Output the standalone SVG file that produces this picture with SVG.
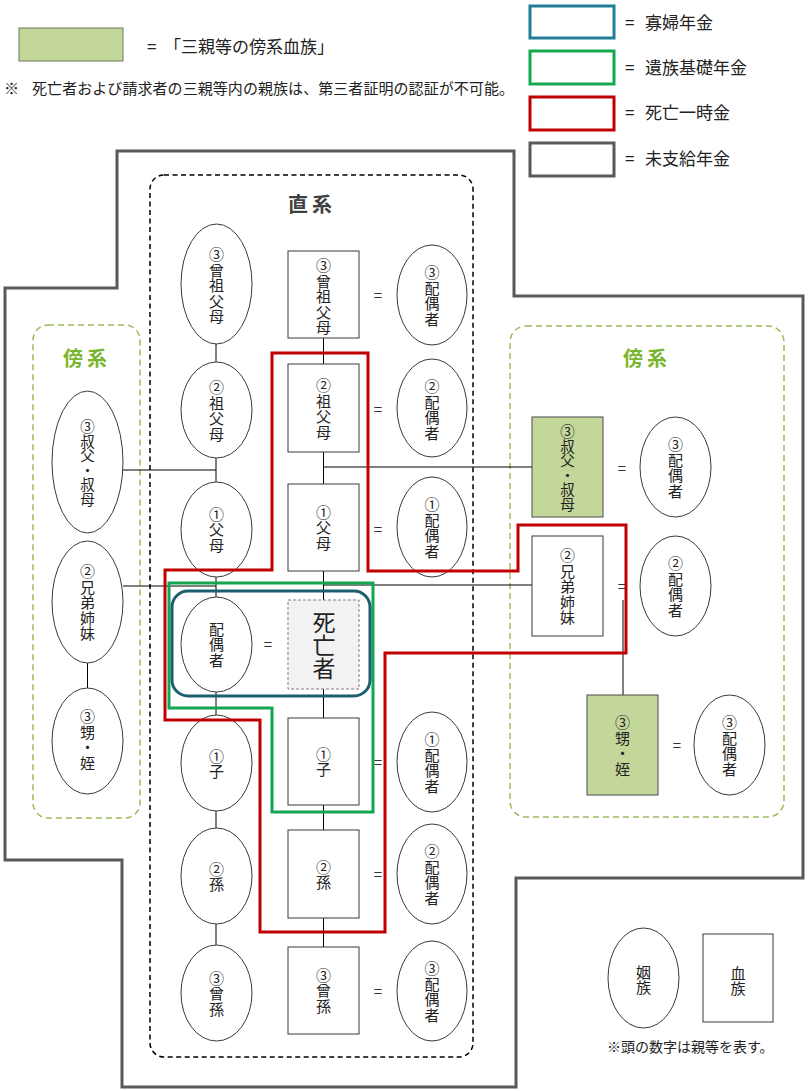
<svg xmlns="http://www.w3.org/2000/svg" width="808" height="1091" viewBox="0 0 808 1091">
<style>
.f{font-family:"Noto Sans CJK JP","Noto Sans CJK SC",sans-serif;fill:#222}
.v{font-family:"Noto Sans CJK JP","Noto Sans CJK SC",sans-serif;font-size:15px;letter-spacing:0.5px;fill:#222;text-anchor:middle;writing-mode:vertical-rl}
.v6{font-size:14.5px;letter-spacing:0}
.eq{font-family:"Noto Sans CJK JP",sans-serif;font-size:15px;fill:#333;text-anchor:middle;dominant-baseline:central}
.n{fill:#fff;stroke:#3a3a3a;stroke-width:1}
.g{fill:#c4d79b;stroke:#4a4a4a;stroke-width:1}
.c line{stroke:#000;stroke-width:1}
.ttl{font-family:"Noto Sans CJK JP",sans-serif;font-size:20px;font-weight:bold;text-anchor:middle;dominant-baseline:central;letter-spacing:4px}
.lg{font-family:"Noto Sans CJK JP",sans-serif;font-size:17px;fill:#222;dominant-baseline:central}
</style>
<rect width="808" height="1091" fill="#fff"/>

<!-- legends -->
<g id="legend-top-left">
<rect x="19" y="28" width="104" height="33" fill="#c4d79b" stroke="#6b7a55" stroke-width="1"/>
<text class="lg" x="147" y="45">=</text>
<text class="lg" x="164" y="45">「三親等の傍系血族」</text>
<text class="f" x="4" y="94" font-size="15">※</text>
<text class="f" x="32" y="94" font-size="15" textLength="482" lengthAdjust="spacing">死亡者および請求者の三親等内の親族は、第三者証明の認証が不可能。</text>
</g>
<g id="legend-top-right">
<rect x="530" y="6" width="84" height="32" fill="none" stroke="#1f7f95" stroke-width="3"/>
<rect x="530" y="51" width="84" height="33" fill="none" stroke="#14a850" stroke-width="3"/>
<rect x="530" y="97" width="84" height="33" fill="none" stroke="#c00000" stroke-width="3"/>
<rect x="530" y="143" width="84" height="33" fill="none" stroke="#595959" stroke-width="3"/>
<text class="lg" x="625" y="21">=</text><text class="lg" x="645" y="21">寡婦年金</text>
<text class="lg" x="625" y="66">=</text><text class="lg" x="645" y="66">遺族基礎年金</text>
<text class="lg" x="625" y="111">=</text><text class="lg" x="645" y="111">死亡一時金</text>
<text class="lg" x="625" y="157">=</text><text class="lg" x="645" y="157">未支給年金</text>
</g>

<!-- outer gray outline -->
<polygon id="outline" points="117,151 514,151 514,296 803,296 803,878 516,878 516,1087 122,1087 122,860 5,860 5,288 117,288" fill="none" stroke="#595959" stroke-width="3"/>

<!-- group boxes -->
<g id="direct-box">
<rect x="150" y="175" width="323" height="882" rx="14" fill="none" stroke="#000" stroke-width="1.5" stroke-dasharray="5 3.5"/>
<text class="ttl" x="312" y="203" fill="#404040">直系</text>
</g>
<g id="collateral-left-box">
<rect x="33" y="325" width="107" height="493" rx="15" fill="none" stroke="#9bbb59" stroke-width="1.5" stroke-dasharray="6 4"/>
<text class="ttl" x="87" y="357" fill="#7ab52f">傍系</text>
</g>
<g id="collateral-right-box">
<rect x="510" y="326" width="274" height="491" rx="16" fill="none" stroke="#9bbb59" stroke-width="1.5" stroke-dasharray="6 4"/>
<text class="ttl" x="647" y="357" fill="#7ab52f">傍系</text>
</g>

<!-- connectors -->
<g id="connectors" class="c">
<line x1="216" y1="344" x2="216" y2="362"/>
<line x1="216" y1="458" x2="216" y2="482"/>
<line x1="216" y1="577" x2="216" y2="597"/>
<line x1="216" y1="692" x2="216" y2="715"/>
<line x1="216" y1="811" x2="216" y2="828"/>
<line x1="216" y1="924" x2="216" y2="945"/>
<line x1="323.5" y1="338" x2="323.5" y2="364"/>
<line x1="323.5" y1="452" x2="323.5" y2="484"/>
<line x1="323.5" y1="571" x2="323.5" y2="600"/>
<line x1="323.5" y1="689" x2="323.5" y2="718"/>
<line x1="323.5" y1="805" x2="323.5" y2="830"/>
<line x1="323.5" y1="918" x2="323.5" y2="947"/>
<line x1="123" y1="470" x2="216" y2="470"/>
<line x1="123" y1="586" x2="216" y2="586"/>
<line x1="87.5" y1="662" x2="87.5" y2="688"/>
<line x1="323.5" y1="467" x2="532" y2="467"/>
<line x1="323.5" y1="585" x2="532" y2="585"/>
<line x1="623" y1="600" x2="623" y2="695"/>
</g>

<!-- left column (affinity) -->
<g id="n-l-great-grandparents"><ellipse class="n" cx="216.5" cy="284" rx="35.5" ry="60"/><text class="v" x="216.5" y="286">③曾祖父母</text></g>
<g id="n-l-grandparents"><ellipse class="n" cx="216.5" cy="410" rx="35.5" ry="48"/><text class="v" x="216.5" y="411">②祖父母</text></g>
<g id="n-l-parents"><ellipse class="n" cx="216.5" cy="529.5" rx="35.5" ry="47.5"/><text class="v" x="216.5" y="530">①父母</text></g>
<g id="n-spouse"><ellipse class="n" cx="216.5" cy="644.5" rx="35.5" ry="47.5"/><text class="v" x="216.5" y="645">配偶者</text></g>
<g id="n-l-child"><ellipse class="n" cx="216.5" cy="763" rx="35.5" ry="48"/><text class="v" x="216.5" y="764">①子</text></g>
<g id="n-l-grandchild"><ellipse class="n" cx="216.5" cy="876" rx="35.5" ry="48"/><text class="v" x="216.5" y="877">②孫</text></g>
<g id="n-l-great-grandchild"><ellipse class="n" cx="216.5" cy="993" rx="35.5" ry="48"/><text class="v" x="216.5" y="994">③曾孫</text></g>

<!-- middle column (blood) -->
<g id="n-m-great-grandparents"><rect class="n" x="288" y="251" width="71" height="87"/><text class="v" x="323.5" y="297">③曾祖父母</text></g>
<g id="n-m-grandparents"><rect class="n" x="288" y="364" width="71" height="88"/><text class="v" x="323.5" y="409">②祖父母</text></g>
<g id="n-m-parents"><rect class="n" x="288" y="484" width="71" height="87"/><text class="v" x="323.5" y="528">①父母</text></g>
<g id="n-deceased"><rect x="288" y="600" width="71" height="89" fill="#f2f2f2" stroke="#7f7f7f" stroke-width="1" stroke-dasharray="3 2"/><text class="v" x="324" y="645" style="font-size:23px;letter-spacing:0">死亡者</text></g>
<g id="n-m-child"><rect class="n" x="288" y="718" width="71" height="87"/><text class="v" x="323.5" y="762">①子</text></g>
<g id="n-m-grandchild"><rect class="n" x="288" y="830" width="71" height="88"/><text class="v" x="323.5" y="875">②孫</text></g>
<g id="n-m-great-grandchild"><rect class="n" x="288" y="947" width="71" height="87"/><text class="v" x="323.5" y="991">③曾孫</text></g>

<!-- right column spouses -->
<g id="n-r-spouse3a"><ellipse class="n" cx="432" cy="295" rx="35" ry="50"/><text class="v" x="432" y="296">③配偶者</text></g>
<g id="n-r-spouse2a"><ellipse class="n" cx="432" cy="408" rx="35" ry="49"/><text class="v" x="432" y="410">②配偶者</text></g>
<g id="n-r-spouse1a"><ellipse class="n" cx="432" cy="527" rx="35" ry="50"/><text class="v" x="432" y="528">①配偶者</text></g>
<g id="n-r-spouse1b"><ellipse class="n" cx="432" cy="762" rx="35" ry="50"/><text class="v" x="432" y="763">①配偶者</text></g>
<g id="n-r-spouse2b"><ellipse class="n" cx="432" cy="874" rx="35" ry="50"/><text class="v" x="432" y="875">②配偶者</text></g>
<g id="n-r-spouse3b"><ellipse class="n" cx="432" cy="991" rx="35" ry="50"/><text class="v" x="432" y="992">③配偶者</text></g>

<!-- left collateral -->
<g id="n-l-uncle"><ellipse class="n" cx="87.5" cy="462" rx="35.5" ry="71"/><text class="v v6" x="87.5" y="463">③叔父・叔母</text></g>
<g id="n-l-siblings"><ellipse class="n" cx="87.5" cy="602" rx="35.5" ry="61"/><text class="v" x="87.5" y="603">②兄弟姉妹</text></g>
<g id="n-l-nephew"><ellipse class="n" cx="87.5" cy="741" rx="35.5" ry="53"/><text class="v" x="87.5" y="740">③甥・姪</text></g>

<!-- right collateral -->
<g id="n-r-uncle"><rect class="g" x="532" y="417" width="71" height="100"/><text class="v v6" x="567.5" y="468">③叔父・叔母</text></g>
<g id="n-r-uncle-spouse"><ellipse class="n" cx="675.5" cy="467" rx="35.5" ry="50"/><text class="v" x="675.5" y="468">③配偶者</text></g>
<g id="n-r-siblings"><rect class="n" x="532" y="536" width="71" height="100"/><text class="v" x="567.5" y="587">②兄弟姉妹</text></g>
<g id="n-r-sibling-spouse"><ellipse class="n" cx="675.5" cy="586" rx="35.5" ry="50"/><text class="v" x="675.5" y="587">②配偶者</text></g>
<g id="n-r-nephew"><rect class="g" x="587" y="695" width="71" height="100"/><text class="v" x="622.5" y="746">③甥・姪</text></g>
<g id="n-r-nephew-spouse"><ellipse class="n" cx="729.5" cy="745" rx="35.5" ry="50"/><text class="v" x="729.5" y="746">③配偶者</text></g>

<!-- equals signs -->
<g id="equals">
<text class="eq" x="378" y="294">=</text>
<text class="eq" x="378" y="408">=</text>
<text class="eq" x="378" y="528">=</text>
<text class="eq" x="378" y="761">=</text>
<text class="eq" x="378" y="873">=</text>
<text class="eq" x="378" y="990">=</text>
<text class="eq" x="268" y="643">=</text>
<text class="eq" x="622" y="467">=</text>
<text class="eq" x="622" y="585">=</text>
<text class="eq" x="677" y="744">=</text>
</g>

<!-- benefit frames -->
<g id="frame-lump-sum"><polygon points="272,353 368,353 368,571 518,571 518,525 626,525 626,653 385,653 385,932 260,932 260,720 165,720 165,570 272,570" fill="none" stroke="#c00000" stroke-width="3"/></g>
<g id="frame-basic-pension"><polygon points="169,583 373,583 373,812 272,812 272,708 169,708" fill="none" stroke="#12a650" stroke-width="3"/></g>
<g id="frame-widow"><rect x="172" y="591" width="198" height="105" rx="16" fill="none" stroke="#1c5f6e" stroke-width="3"/></g>

<!-- bottom legend -->
<g id="legend-bottom">
<ellipse class="n" cx="643.5" cy="978" rx="35.5" ry="50"/>
<text class="v" x="643.5" y="980">姻族</text>
<rect class="n" x="703" y="934" width="70" height="88"/>
<text class="v" x="738" y="981">血族</text>
<text class="f" x="607" y="1052" font-size="14">※頭の数字は親等を表す。</text>
</g>
</svg>
